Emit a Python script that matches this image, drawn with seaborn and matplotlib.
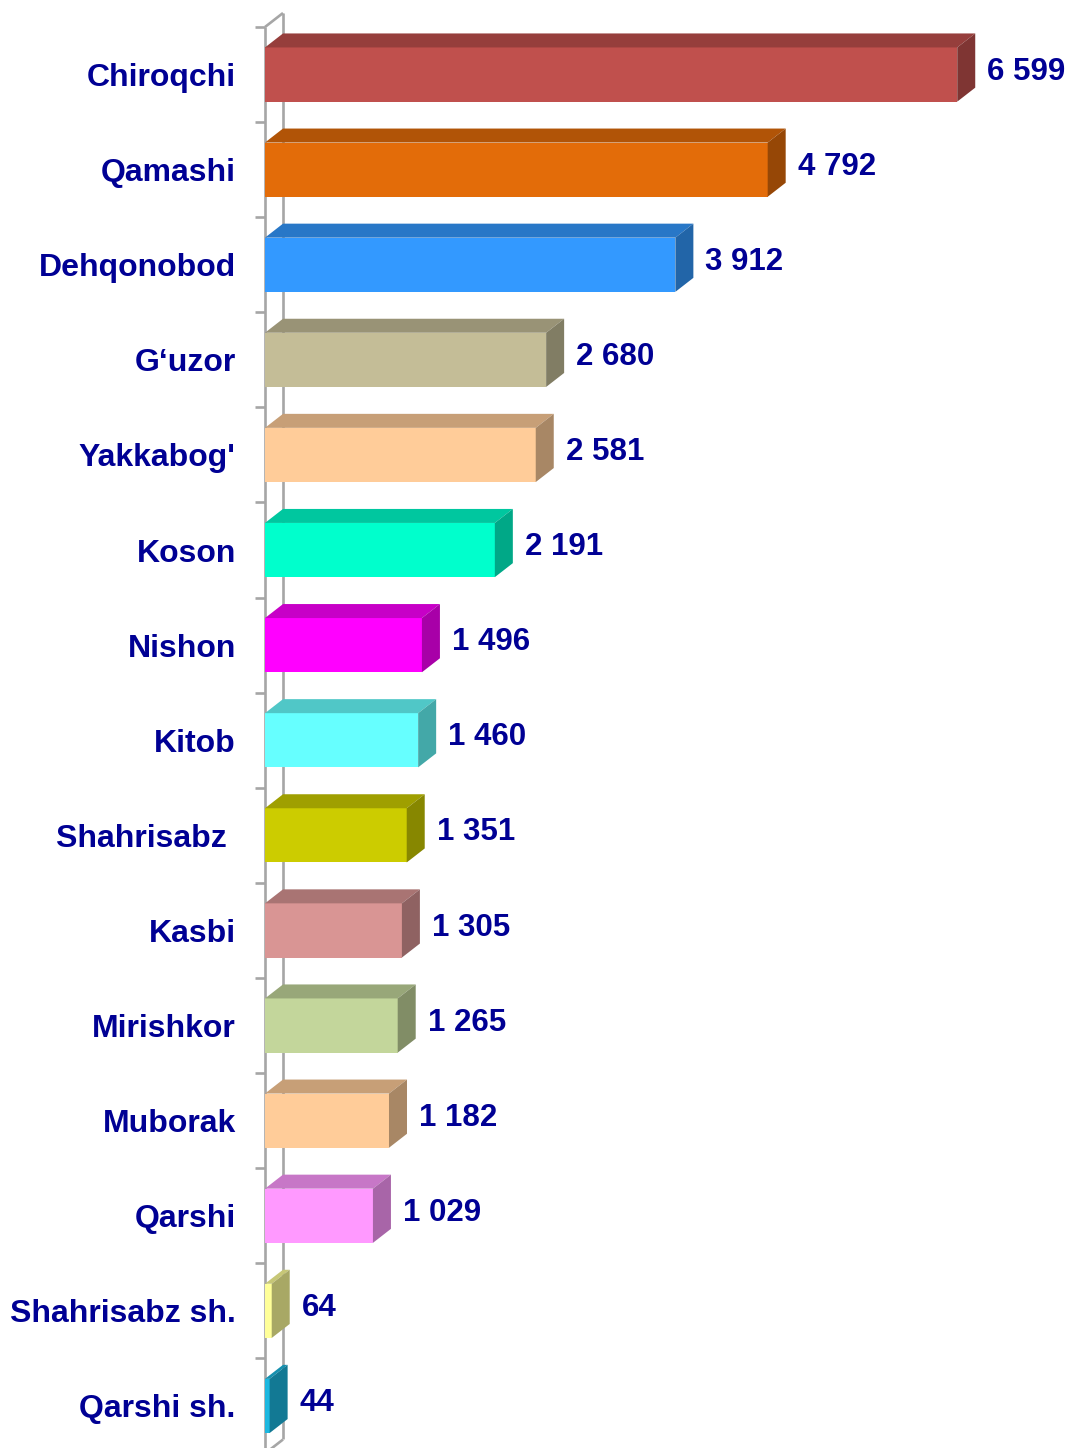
import numpy as np
import pandas as pd
import matplotlib
matplotlib.use("Agg")
import matplotlib.pyplot as plt
from matplotlib.patches import Polygon
from matplotlib.colors import to_rgb
import seaborn as sns

# Data
districts = ["Chiroqchi", "Qamashi", "Dehqonobod", "G\u2018uzor", "Yakkabog'",
             "Koson", "Nishon", "Kitob", "Shahrisabz ", "Kasbi", "Mirishkor",
             "Muborak", "Qarshi", "Shahrisabz sh.", "Qarshi sh."]
values = [6599, 4792, 3912, 2680, 2581, 2191, 1496, 1460, 1351, 1305,
          1265, 1182, 1029, 64, 44]

# Front-face colours of the bars
front_colors = ["#C0504D", "#E36C09", "#3399FF", "#C4BD97", "#FFCC99",
                "#00FFCC", "#FF00FF", "#66FFFF", "#CCCC00", "#D99594",
                "#C3D69B", "#FFCC99", "#FF99FF", "#FFFF99", "#1CB8E0"]

TEXT_COLOR = "#000094"
WALL_COLOR = "#A6A6A6"

df = pd.DataFrame({"district": districts, "value": values})

sns.set_theme(style="white")
plt.rcParams["font.family"] = ["Liberation Sans", "DejaVu Sans"]

W, H, DPI = 1069, 1448, 100
fig = plt.figure(figsize=(W / DPI, H / DPI), dpi=DPI)

# Axes geometry in pixels
x0_px, px_per_unit = 265, 0.1049
row_px, top_px = 95.1, 27
n = len(districts)
ax_w_px = W - x0_px
ax_h_px = row_px * n
ax = fig.add_axes([x0_px / W, 1 - (top_px + ax_h_px) / H, ax_w_px / W, ax_h_px / H])
xmax = ax_w_px / px_per_unit

sns.barplot(data=df, x="value", y="district", hue="district",
            palette=front_colors, legend=False, orient="h", width=0.57,
            saturation=1, linewidth=0, ax=ax, zorder=3)

ax.set_xlim(0, xmax)
ax.set_ylim(n - 0.5, -0.5)

# Depth of the 3D effect, in data units
dx = 18 / px_per_unit
dy = 14 / row_px


def shade(color, f):
    r, g, b = to_rgb(color)
    return (r * f, g * f, b * f)


# Top and side faces of each bar
for p, col in zip(ax.patches, front_colors):
    x0, y0 = p.get_x(), p.get_y()
    w, h = p.get_width(), p.get_height()
    x1 = x0 + w
    top = Polygon([(x0, y0), (x1, y0), (x1 + dx, y0 - dy), (x0 + dx, y0 - dy)],
                  closed=True, facecolor=shade(col, 0.78), edgecolor="none", zorder=3)
    side = Polygon([(x1, y0), (x1, y0 + h), (x1 + dx, y0 + h - dy), (x1 + dx, y0 - dy)],
                   closed=True, facecolor=shade(col, 0.66), edgecolor="none", zorder=3)
    ax.add_patch(top)
    ax.add_patch(side)

# Value labels
for i, v in enumerate(values):
    label = f"{v:,}".replace(",", " ")
    ax.text(v + dx + 12 / px_per_unit, i - 0.03, label, ha="left", va="center",
            fontsize=22.5, fontweight="bold", color=TEXT_COLOR, zorder=5)

# Category wall: front edge, back edge and slanted joins
wall_kw = dict(color=WALL_COLOR, lw=1.9, solid_capstyle="butt", clip_on=False)
ax.plot([0, 0], [-0.5, n - 0.5], zorder=2, **wall_kw)
ax.plot([dx, dx], [-0.5 - dy, n - 0.5 - dy], zorder=1, **wall_kw)
ax.plot([0, dx], [-0.5, -0.5 - dy], zorder=2, **wall_kw)
ax.plot([0, dx], [n - 0.5, n - 0.5 - dy], zorder=2, **wall_kw)

# Boundary tick marks on the left of the wall
tick_len = 10 / px_per_unit
for k in range(n):
    ax.plot([-tick_len, 0], [k - 0.5, k - 0.5], zorder=2, **wall_kw)

# Category labels
ax.set_yticks(range(n))
ax.set_yticklabels(districts)
ax.tick_params(axis="y", length=0, pad=21, labelsize=23, labelcolor=TEXT_COLOR)
for t in ax.get_yticklabels():
    t.set_fontweight("bold")
ax.set_xticks([])
ax.set_xlabel("")
ax.set_ylabel("")
sns.despine(ax=ax, left=True, bottom=True)
ax.patch.set_visible(False)

fig.savefig("out.png", dpi=DPI)
